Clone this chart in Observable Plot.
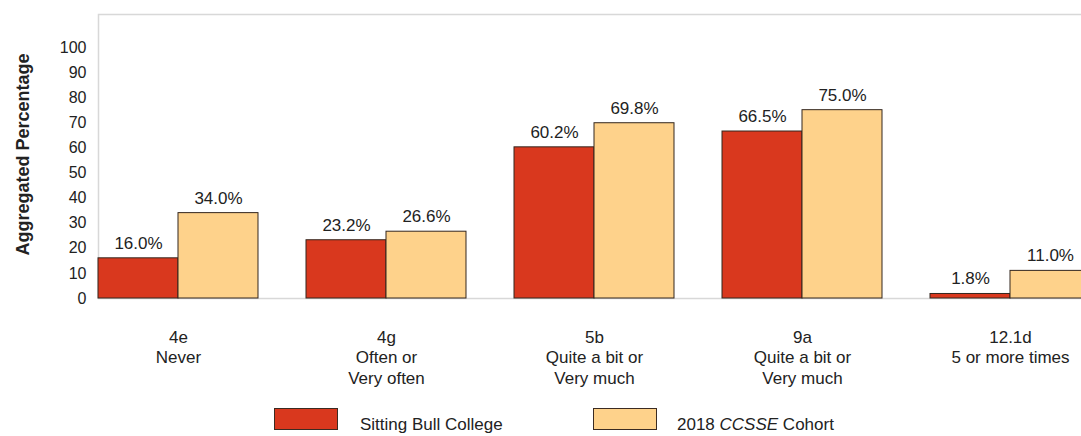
<!DOCTYPE html>
<html>
<head>
<meta charset="utf-8">
<script src="https://cdn.jsdelivr.net/npm/d3@7"></script>
<script src="https://cdn.jsdelivr.net/npm/@observablehq/plot@0.6"></script>
<style>
  html, body { margin: 0; padding: 0; background: #fff; overflow: hidden; }
  body { width: 1081px; height: 436px; font-family: "Liberation Sans", Arial, sans-serif; color: #222; }
  #chart svg { max-width: none !important; display: block; }
  .legend { position: relative; height: 44px; width: 1081px; font-size: 17px; }
  .legend .box { position: absolute; top: 16px; width: 62px; height: 20px; border: 1.5px solid #3b2b22; }
  .legend .lab { position: absolute; top: 23px; line-height: 20px; white-space: nowrap; }
</style>
</head>
<body>
<div id="chart"></div>
<div class="legend" id="legend"></div>
<script>
// ---- data ----
const codes = ["4e", "4g", "5b", "9a", "12.1d"];
const descriptions = ["Never", "Often or\nVery often", "Quite a bit or\nVery much", "Quite a bit or\nVery much", "5 or more times"];
const seriesNames = ["Sitting Bull College", "2018 CCSSE Cohort"];
const collegeValues = [16.0, 23.2, 60.2, 66.5, 1.8];
const cohortValues = [34.0, 26.6, 69.8, 75.0, 11.0];
const yTicks = [0, 10, 20, 30, 40, 50, 60, 70, 80, 90, 100];
const yLabel = "Aggregated Percentage";
const seriesColors = ["#d9381e", "#fed28b"];

// ---- tables ----
const college = codes.map((c, i) => ({code: c, value: collegeValues[i], series: seriesNames[0]}));
const cohort = codes.map((c, i) => ({code: c, value: cohortValues[i], series: seriesNames[1]}));
const descOf = new Map(codes.map((c, i) => [c, descriptions[i]]));

// ---- layout ----
const W = 1100, H = 392, mL = 98, mR = 10, mT = 14, mB = 94;
const padInner = 0.2308;
const step = (W - mL - mR) / (codes.length - padInner);
const half = step * (1 - padInner) / 2;
const fmt = v => v.toFixed(1) + "%";

const chart = Plot.plot({
  width: W, height: H,
  marginLeft: mL, marginRight: mR, marginTop: mT, marginBottom: mB,
  style: {fontFamily: "'Liberation Sans', Arial, sans-serif", color: "#222", background: "#fff", maxWidth: "none"},
  x: {domain: codes, paddingInner: padInner, paddingOuter: 0, round: false, axis: null},
  y: {domain: [0, 113.1], axis: null},
  color: {domain: seriesNames, range: seriesColors},
  marks: [
    Plot.frame({stroke: "#d8d8d8", strokeWidth: 1.5}),
    Plot.axisY({ticks: yTicks, tickSize: 0, tickPadding: 12, fontSize: 16, label: null}),
    Plot.axisX({tickSize: 0, tickPadding: 30, fontSize: 17, lineHeight: 1.2, label: null,
                tickFormat: c => c + "\n" + descOf.get(c)}),
    Plot.barY(college, {x: "code", y: "value", fill: "series", stroke: "#33261e", strokeWidth: 1, insetRight: half}),
    Plot.barY(cohort, {x: "code", y: "value", fill: "series", stroke: "#33261e", strokeWidth: 1, insetLeft: half}),
    Plot.text(college, {x: "code", y: "value", text: d => fmt(d.value), dx: -half / 2, dy: -15, fontSize: 17, fill: "#222"}),
    Plot.text(cohort, {x: "code", y: "value", text: d => fmt(d.value), dx: half / 2, dy: -15, fontSize: 17, fill: "#222"}),
    Plot.text([yLabel], {text: d => d, frameAnchor: "left", textAnchor: "middle", rotate: -90, dx: -75, dy: -2, fontSize: 18, fontWeight: "bold", fill: "#222"})
  ]
});
document.getElementById("chart").appendChild(chart);

// ---- legend ----
const legend = document.getElementById("legend");
const items = [
  {box: 274, text: 360, html: "Sitting Bull College"},
  {box: 593, text: 677, html: "2018 <i>CCSSE</i> Cohort"}
];
items.forEach((it, i) => {
  const b = document.createElement("div");
  b.className = "box";
  b.style.left = it.box + "px";
  b.style.background = seriesColors[i];
  legend.appendChild(b);
  const t = document.createElement("div");
  t.className = "lab";
  t.style.left = it.text + "px";
  t.innerHTML = it.html;
  legend.appendChild(t);
});
</script>
</body>
</html>
